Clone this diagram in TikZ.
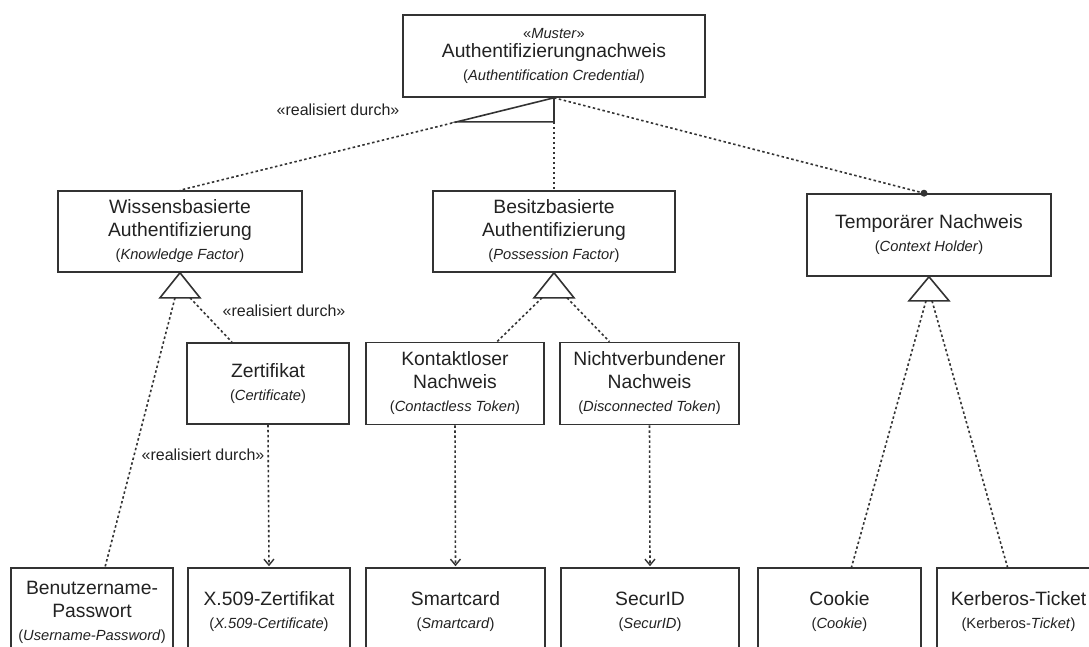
\documentclass[tikz,border=0pt]{standalone}
\usepackage{fontspec}
\setmainfont{Liberation Sans}
\usetikzlibrary{arrows.meta, calc}

\definecolor{boxgray}{HTML}{333333}
\definecolor{textgray}{HTML}{222222}

% english name below the german one
\newcommand{\engl}[1]{{\fontsize{14.7}{16}\selectfont(\textit{#1})}}

\tikzset{
    box/.style = {draw = boxgray, line width = 1.6pt, align = center, inner sep = 0pt,
        text = textgray, font = \fontsize{19.3}{23}\selectfont},
    gen/.style = {draw = boxgray, line width = 1.6pt, fill = white},
    realize/.style = {draw = boxgray, line width = 1.6pt, dash pattern = on 2.5pt off 2.5pt},
    dep/.style = {realize, -{Straight Barb[length = 6pt, width = 10pt, line width = 1.4pt]}},
    stereo/.style = {text = textgray, font = \fontsize{16}{18}\selectfont}
}

\begin{document}
\begin{tikzpicture}[x = 1pt, y = -1pt]
    \clip (0,0) rectangle (1089,646);
    \fill [white] (0,0) rectangle (1089,646);

    % upper levels
    \node [box, minimum width = 302, minimum height = 82] (Top) at (554,56)
        {{\fontsize{14.7}{16}\selectfont«\textit{Muster}»}\\[-4pt] Authentifizierungnachweis\\ \engl{Authentification Credential}};
    \node [box, minimum width = 244, minimum height = 81] (Wissen) at (180,231.5)
        {Wissensbasierte\\ Authentifizierung\\ \engl{Knowledge Factor}};
    \node [box, minimum width = 242, minimum height = 81] (Besitz) at (554,231.5)
        {Besitzbasierte\\ Authentifizierung\\ \engl{Possession Factor}};
    \node [box, minimum width = 244, minimum height = 82] (Temp) at (929,235)
        {Temporärer Nachweis\\ \engl{Context Holder}};

    \node [box, minimum width = 162, minimum height = 81] (Zert) at (268,383.5)
        {Zertifikat\\ \engl{Certificate}};
    \node [box, minimum width = 178, minimum height = 82] (Kontakt) at (455,383.5)
        {Kontaktloser\\ Nachweis\\ \engl{Contactless Token}};
    \node [box, minimum width = 179, minimum height = 82] (Nicht) at (649.5,383.5)
        {Nichtverbundener\\ Nachweis\\ \engl{Disconnected Token}};

    % bottom row, cut by the page edge
    \node [box, minimum width = 162, minimum height = 88] (Benutz) at (92,612)
        {Benutzername-\\ Passwort\\ \engl{Username-Password}};
    \node [box, minimum width = 162, minimum height = 88] (Xcert) at (269,612)
        {X.509-Zertifikat\\ \engl{X.509-Certificate}};
    \node [box, minimum width = 179, minimum height = 88] (Smart) at (455.5,612)
        {Smartcard\\ \engl{Smartcard}};
    \node [box, minimum width = 178, minimum height = 88] (Secur) at (650,612)
        {SecurID\\ \engl{SecurID}};
    \node [box, minimum width = 163, minimum height = 88] (Cookie) at (839.5,612)
        {Cookie\\ \engl{Cookie}};
    \node [box, minimum width = 163, minimum height = 88] (Kerb) at (1018.5,612)
        {Kerberos-Ticket\\ {\fontsize{14.7}{16}\selectfont(Kerberos-\textit{Ticket})}};

    % realization of the pattern
    \draw [gen] (Top.south) -- ++(-97,24) -- ++(97,0) -- cycle;
    \draw [realize] ($(Top.south)+(-97,24)$) -- (Wissen.north);
    \draw [realize] ($(Top.south)+(0,24)$) -- (Besitz.north);
    \draw [realize] (Top.south) -- ($(Temp.north)+(-5,0)$);
    \fill [boxgray] ($(Temp.north)+(-5,0)$) circle (3.5);
    \node [stereo] (rdTop) at (338,110) {«realisiert durch»};

    % generalizations
    \draw [gen] (Wissen.south) -- ++(-20,25) -- ++(40,0) -- cycle;
    \draw [realize] ($(Wissen.south)+(-5,25)$) -- ($(Benutz.north)+(13,0)$);
    \draw [realize] ($(Wissen.south)+(10,25)$) -- ($(Zert.north)+(-36,0)$);
    \node [stereo] (rdWissen) at (284,311) {«realisiert durch»};

    \draw [gen] (Besitz.south) -- ++(-20,25) -- ++(40,0) -- cycle;
    \draw [realize] ($(Besitz.south)+(-12,25)$) -- ($(Kontakt.north)+(42,0)$);
    \draw [realize] ($(Besitz.south)+(13,25)$) -- ($(Nicht.north)+(-40,0)$);

    \draw [gen] (Temp.south) -- ++(-20,24) -- ++(40,0) -- cycle;
    \draw [realize] ($(Temp.south)+(-3,24)$) -- ($(Cookie.north)+(12,0)$);
    \draw [realize] ($(Temp.south)+(3,24)$) -- ($(Kerb.north)+(-11,0)$);

    % dependencies
    \draw [dep, shorten >= 1pt] (Zert.south) -- (Xcert.north);
    \node [stereo] (rdZert) at (203,455) {«realisiert durch»};
    \draw [dep, shorten >= 1pt] (Kontakt.south) -- (Smart.north);
    \draw [dep, shorten >= 1pt] (Nicht.south) -- (Secur.north);
\end{tikzpicture}
\end{document}
